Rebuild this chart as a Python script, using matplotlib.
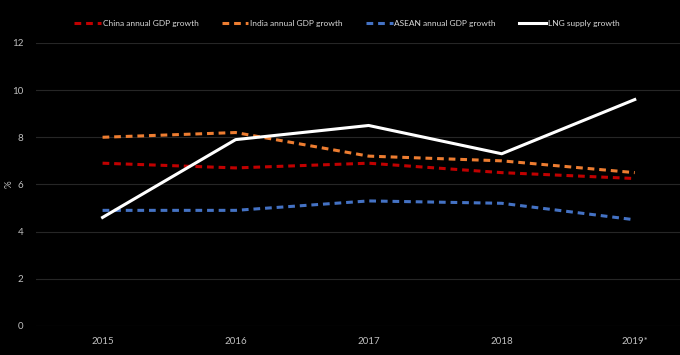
import matplotlib.pyplot as plt
import numpy as np

plt.rcParams['font.family'] = ['Lato', 'DejaVu Sans']

years = ["2015", "2016", "2017", "2018", "2019*"]
china = [6.9, 6.7, 6.9, 6.5, 6.25]
india = [8.0, 8.2, 7.2, 7.0, 6.5]
asean = [4.9, 4.9, 5.3, 5.2, 4.5]
lng = [4.6, 7.9, 8.5, 7.3, 9.6]

fig = plt.figure(figsize=(6.8, 3.55), dpi=100, facecolor="black")
ax = fig.add_axes([0.053, 0.082, 0.947, 0.797], facecolor="black")

x = np.arange(len(years))
ax.plot(x, china, color="#c00000", lw=2.2, ls=(0, (2.2, 1.6)), label="China annual GDP growth")
ax.plot(x, india, color="#ed7d31", lw=2.2, ls=(0, (2.2, 1.6)), label="India annual GDP growth")
ax.plot(x, asean, color="#4472c4", lw=2.2, ls=(0, (2.2, 1.6)), label="ASEAN annual GDP growth")
ax.plot(x, lng, color="white", lw=2.2, label="LNG supply growth")

ax.set_xlim(-0.5, 4.34)
ax.set_ylim(0, 12)
ax.set_yticks(range(0, 13, 2))
ax.set_xticks(x)
ax.set_xticklabels(years)
ax.grid(axis="y", color="#262626", lw=0.8)
ax.set_axisbelow(True)
for s in ax.spines.values():
    s.set_visible(False)
ax.tick_params(colors="#bfbfbf", labelsize=7, length=0, pad=8)
ax.tick_params(axis="y", pad=9)
ax.set_ylabel("%", color="#bfbfbf", fontsize=7, labelpad=6)
ax.yaxis.set_label_coords(-0.035, 0.5)

leg = fig.legend(loc="center", bbox_to_anchor=(0.51, 0.935), ncol=4, frameon=False,
                 fontsize=6, handlelength=3.2, handletextpad=0.2, columnspacing=2.8)
for t in leg.get_texts():
    t.set_color("#d9d9d9")

fig.savefig("out.png", dpi=100, facecolor="black")
